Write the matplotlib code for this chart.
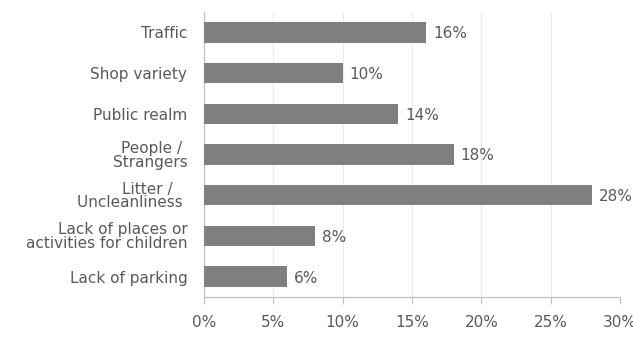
import matplotlib.pyplot as plt

categories = ['Traffic', 'Shop variety', 'Public realm', 'People / \nStrangers',
              'Litter /   \nUncleanliness ', 'Lack of places or\nactivities for children',
              'Lack of parking']
values = [16, 10, 14, 18, 28, 8, 6]
xticks = [0, 5, 10, 15, 20, 25, 30]

TEXT = '#595959'
BAR = '#7f7f7f'
FONT = 'DejaVu Sans'
SIZE = 11

fig = plt.figure(figsize=(6.33, 3.42), dpi=100)
ax = fig.add_axes([0.3223, 0.1316, 0.6572, 0.8334])

pos = list(range(len(categories)))
ax.barh(pos, values, height=0.5, color=BAR, zorder=3)

for p, v in zip(pos, values):
    ax.annotate(f'{v}%', (v, p), xytext=(5, 0), textcoords='offset points',
                ha='left', va='center_baseline', fontsize=SIZE, color=TEXT, fontfamily=FONT)

ax.set_xlim(0, 30)
ax.set_ylim(len(categories) - 0.5, -0.5)
ax.set_yticks(pos)
ax.set_yticklabels(categories, fontsize=SIZE, color=TEXT, fontfamily=FONT,
                   linespacing=0.9, multialignment='right')
ax.set_xticks(xticks)
ax.set_xticklabels([f'{t}%' for t in xticks], fontsize=SIZE, color=TEXT, fontfamily=FONT)

ax.tick_params(axis='y', length=0, pad=12)
ax.tick_params(axis='x', length=5, width=0.8, color='#bfbfbf', pad=8)

ax.grid(axis='x', color='#ebebeb', linewidth=0.8, zorder=0)
for side in ['top', 'right']:
    ax.spines[side].set_visible(False)
for side in ['left', 'bottom']:
    ax.spines[side].set_color('#bfbfbf')
    ax.spines[side].set_linewidth(0.9)

fig.savefig('out.png', dpi=100, facecolor='white')
